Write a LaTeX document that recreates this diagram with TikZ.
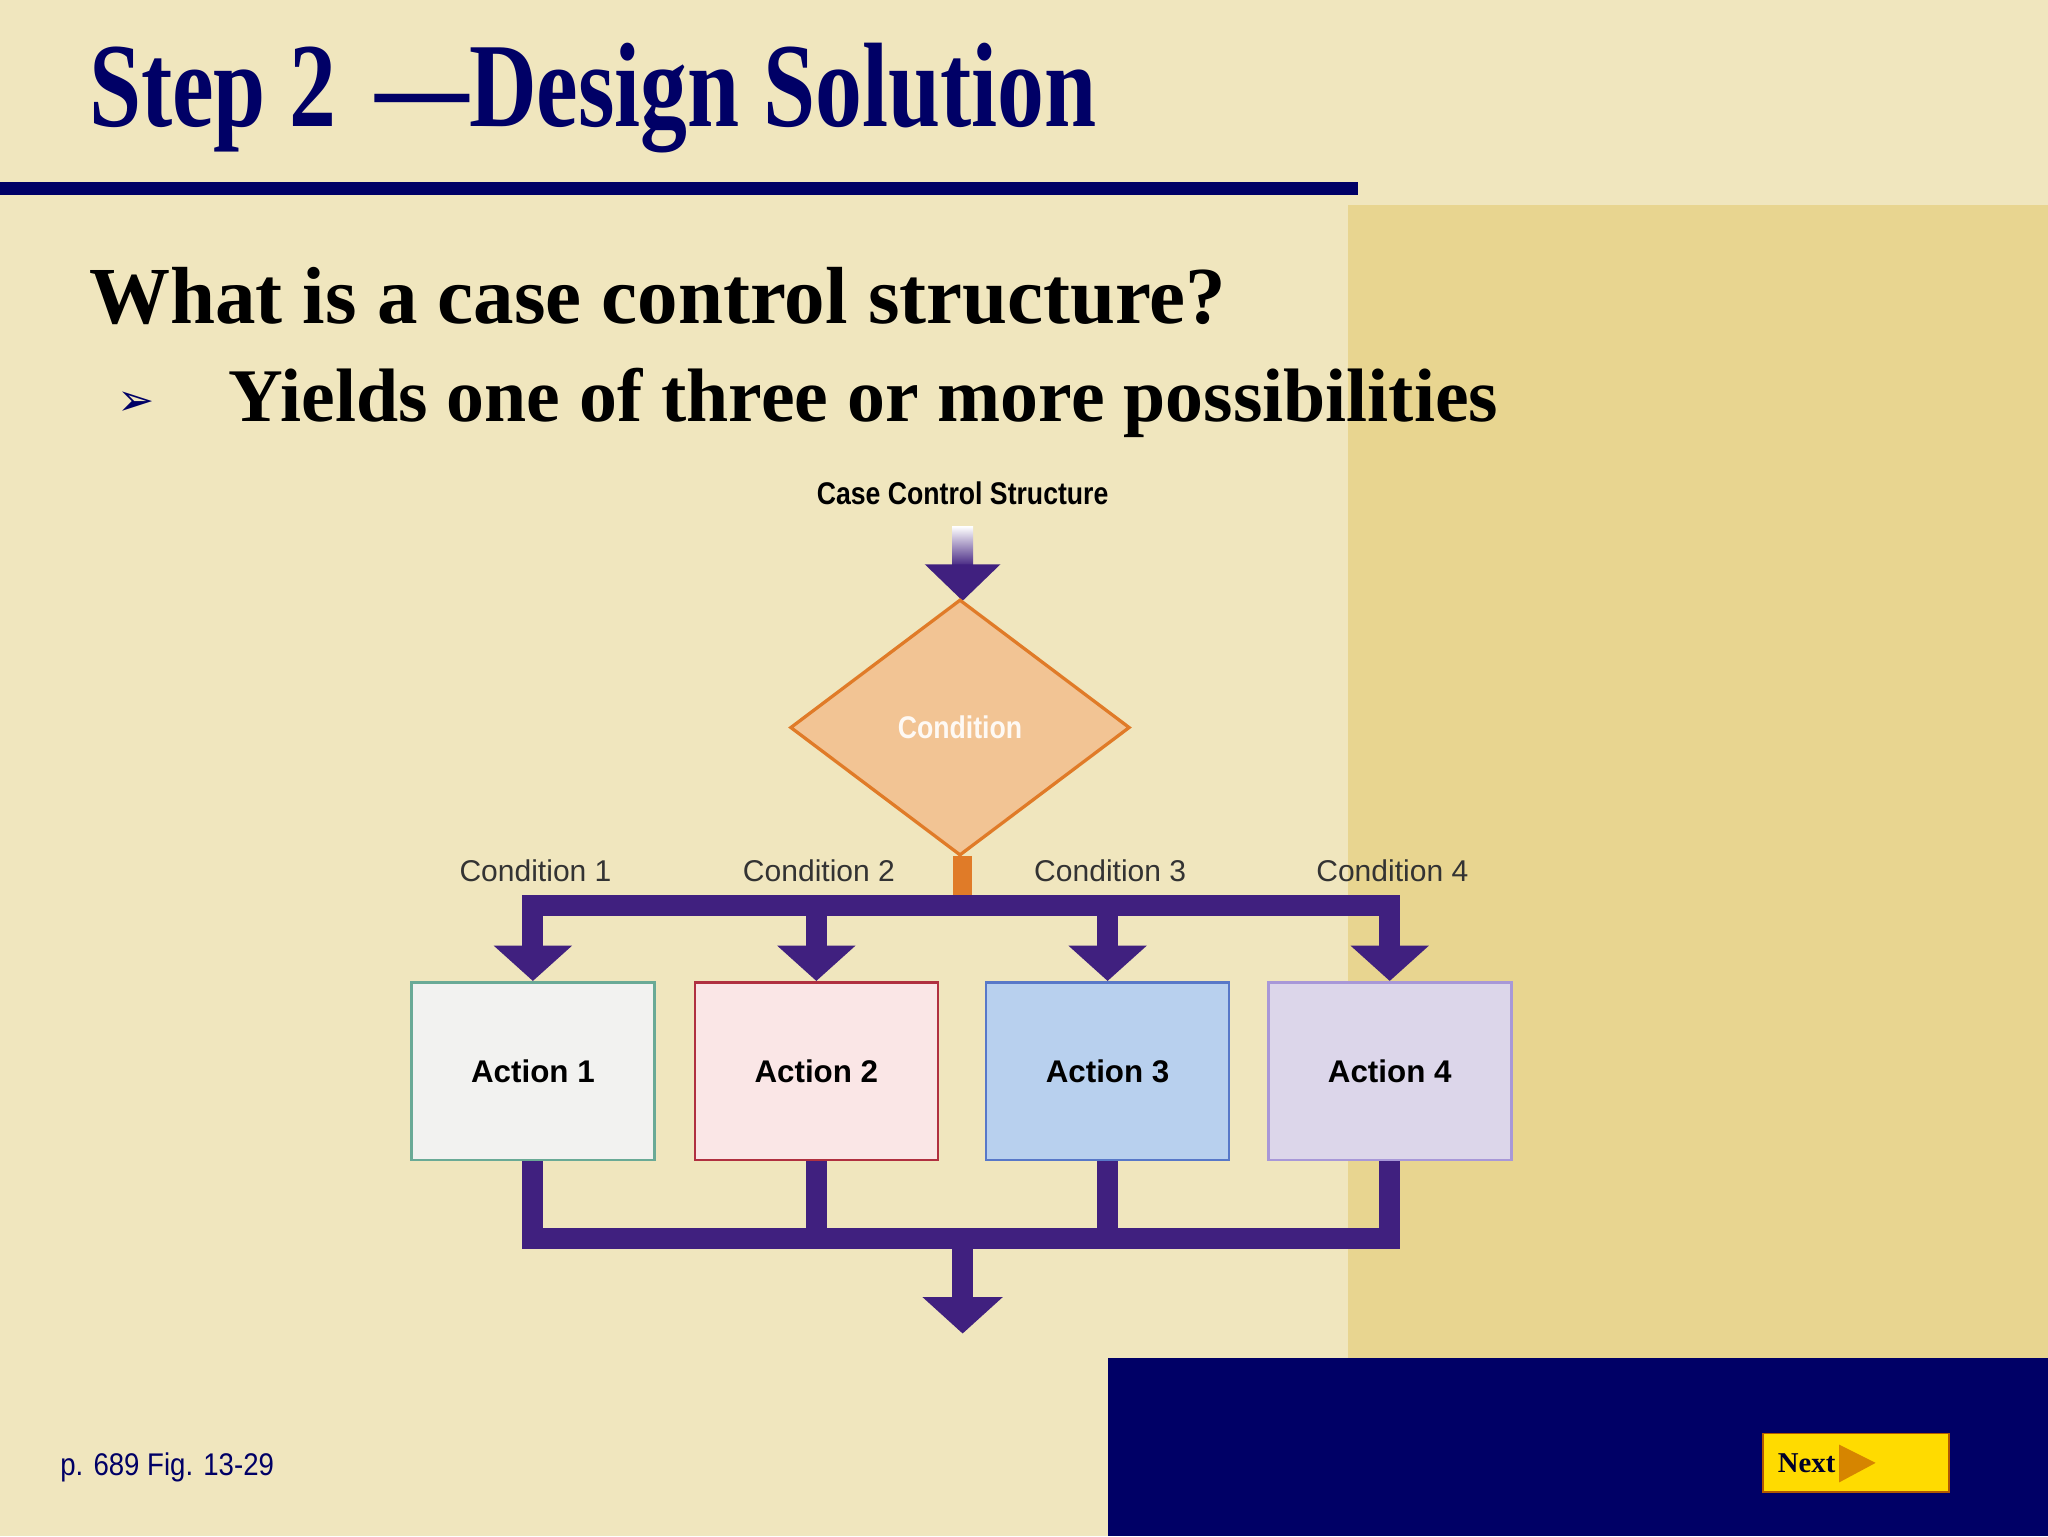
\documentclass[tikz,border=0pt]{standalone}
\usepackage{fontspec}
\setmainfont{Liberation Serif}
\setsansfont{Liberation Sans}
\usetikzlibrary{arrows.meta,shapes.geometric}
\definecolor{bg}{HTML}{F0E6BE}
\definecolor{panel}{HTML}{E8D590}
\definecolor{navy}{HTML}{000066}
\definecolor{purp}{HTML}{40207F}
\definecolor{dfill}{HTML}{F2C494}
\definecolor{ddraw}{HTML}{E07B28}
\tikzset{
  flow/.style={purp,line width=16pt},
  flowtip/.style={purp,line width=16pt,-{Triangle[width=60pt,length=28pt]}},
  act/.style={draw,line width=2pt,minimum width=186pt,minimum height=136pt,font=\sffamily\bfseries\fontsize{24}{26}\selectfont,text=black,xscale=1},
  clab/.style={font=\sffamily\fontsize{23}{25}\selectfont,text=black!80},
}
\begin{document}
\begin{tikzpicture}[x=1pt,y=-1pt]
\useasboundingbox (0,0) rectangle (1568,1176);
\fill[bg] (0,0) rectangle (1568,1176);
\fill[panel] (1032,157) rectangle (1568,1040);
\fill[navy] (848,1040) rectangle (1568,1176);
\fill[navy] (0,139) rectangle (1040,149);
\node[anchor=base west,inner sep=0,text=navy,xscale=0.78,font=\bfseries\fontsize{92}{96}\selectfont] (title) at (68,97) {Step 2 \,—Design Solution};
\node[anchor=base west,inner sep=0,font=\bfseries\fontsize{62}{66}\selectfont] (q) at (68,248) {What is a case control structure?};
\node[anchor=base west,inner sep=0,text=navy,font=\fontsize{34}{36}\selectfont] (bul) at (90,318) {\fontspec{DejaVu Sans}➢};
\node[anchor=base west,inner sep=0,font=\bfseries\fontsize{58}{62}\selectfont] (y) at (175,323) {Yields one of three or more possibilities};
\node[font=\sffamily\bfseries\fontsize{24}{26}\selectfont,xscale=0.85] (cap) at (737,378) {Case Control Structure};
% top arrow
\shade[top color=white,bottom color=purp] (729,403) rectangle (745,434);
\coordinate (ts) at (737,432);
\fill[purp] (708,432) -- (766,432) -- (737,460) -- cycle;
\node[diamond,draw=ddraw,fill=dfill,line width=2.5pt,minimum width=260pt,minimum height=196pt,inner sep=0] (d) at (735,557) {};
\node[font=\sffamily\bfseries\fontsize{24}{26}\selectfont,text=white!90!dfill,xscale=0.85] at (d) {Condition};
\draw[ddraw,line width=15pt] (d.south) ++(2,-1) -- ++(0,33);
\coordinate (bl) at (400,693); \coordinate (br) at (1072,693);
\draw[flow] (bl) -- (br);
\foreach \x/\n/\f/\c in {408/1/F2F2F0/6AAA96,625/2/FAE6E6/B03040,848/3/B8D0EE/5878C8,1064/4/DCD6EA/A898D8}{
  \definecolor{ff}{HTML}{\f}\definecolor{cc}{HTML}{\c}
  \node[clab] (c\n) at (\x+2,667) {Condition \n};
  \node[act,fill=ff,draw=cc] (a\n) at (\x,820) {Action \n};
  \draw[flow] (\x,693) -- (\x,724);
  \fill[purp] (\x-30,724) -- (\x+30,724) -- (a\n.north) -- cycle;
  \draw[flow] (a\n.south) -- (\x,948);
}
\coordinate (l2) at (400,948); \coordinate (r2) at (1072,948);
\draw[flow] (l2) -- (r2);
\coordinate (e) at (737,1021);
\draw[flowtip] (737,948) -- (e);
\node[anchor=base west,inner sep=0,text=navy,font=\sffamily\fontsize{24}{26}\selectfont,xscale=0.88] (ref) at (46,1130) {p. 689 Fig. 13-29};
\node[draw=orange!70!black,fill=orange!20!yellow!90!orange,minimum width=142pt,minimum height=45pt,line width=1.5pt] (nx) at (1421,1120) {};
\fill[black!20!orange!80!yellow] (1408,1106) -- (1436,1120) -- (1408,1135) -- cycle;
\node[anchor=base west,inner sep=0,font=\bfseries\fontsize{22}{24}\selectfont,text=navy!40!black] at (1361,1127) {Next};
\end{tikzpicture}
\end{document}
